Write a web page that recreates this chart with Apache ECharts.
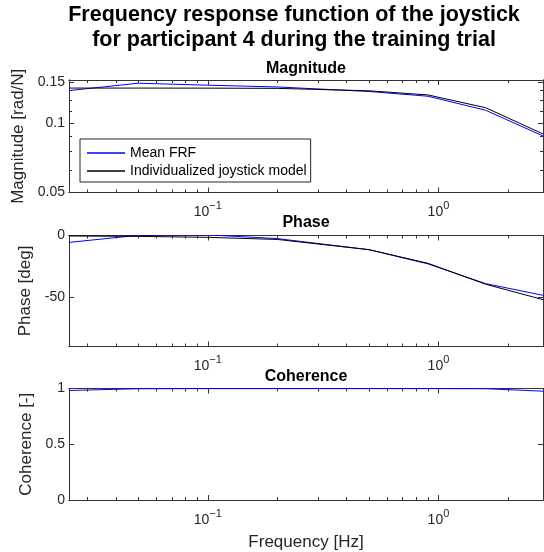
<!DOCTYPE html>
<html><head><meta charset="utf-8">
<script src="https://cdn.jsdelivr.net/npm/echarts@6/dist/echarts.min.js"></script>
<style>html,body{margin:0;padding:0;background:#fff}#c{width:544px;height:552px}</style>
</head><body><div id="c"></div>
<script>
// ---- data ----
const freq       = [0.025, 0.05, 0.1, 0.2, 0.5, 0.9, 1.6, 2.84];
const magFRF     = [0.1377, 0.1482, 0.1453, 0.1428, 0.1365, 0.1302, 0.1133, 0.0877];
const magModel   = [0.1412, 0.1412, 0.1411, 0.1408, 0.1374, 0.1319, 0.1162, 0.0895];
const phaseFRF   = [-5.6, 0.2, 0.5, -2.5, -11.5, -23.0, -39.0, -48.5];
const phaseModel = [-0.4, -0.7, -1.5, -3.2, -11.5, -22.5, -39.5, -52.0];
const coherence  = [0.982, 0.998, 0.999, 0.999, 0.999, 0.999, 0.998, 0.976];

const xMajorTicks   = [0.1, 1];
const xMinorTicks   = [0.03,0.04,0.05,0.06,0.07,0.08,0.09,0.2,0.3,0.4,0.5,0.6,0.7,0.8,0.9,2];
const magMajorTicks = [0.05, 0.1, 0.15];
const magMinorTicks = [0.0625, 0.075, 0.0875, 0.1125, 0.125, 0.1375];
const phaseTicks    = [-50, 0];
const cohTicks      = [0, 0.5, 1];
const xLimits     = [0.025, 2.84];
const magLimits   = [0.05, 0.153];
const phaseLimits = [-90, 0];
const cohLimits   = [0, 1];

const mainTitle = ['Frequency response function of the joystick', 'for participant 4 during the training trial'];
const panelTitles = ['Magnitude', 'Phase', 'Coherence'];
const yNames = ['Magnitude [rad/N]', 'Phase [deg]', 'Coherence [-]'];
const xName = 'Frequency [Hz]';
const seriesNames = ['Mean FRF', 'Individualized joystick model'];

// ---- chart ----
const lg = Math.log10;
const FONT = '"Liberation Sans", Arial, Helvetica, sans-serif';
const AX = '#262626';
const LINE = {color: '#333', width: 1};
const grids = [
  {left: 69, top: 80,    width: 474, height: 112.5},
  {left: 69, top: 235.5, width: 474, height: 111},
  {left: 69, top: 388.5, width: 474, height: 112}
];
const cx = 69 + 474 / 2;

const xAxis = [], yAxis = [];
function xFmt(v) {
  const e = Math.round(v);
  return '{b|10}{s|' + (e < 0 ? '\u2212' + (-e) : e) + '}';
}
function addX(g, showName) {
  const base = {type: 'value', gridIndex: g, min: lg(xLimits[0]), max: lg(xLimits[1]),
    splitLine: {show: false}, axisLine: {show: true, onZero: false, lineStyle: LINE}};
  const idx = xAxis.length;
  xAxis.push(Object.assign({}, base, {position: 'bottom',
    axisTick: {show: true, inside: true, length: 5, lineStyle: LINE, customValues: xMajorTicks.map(lg)},
    axisLabel: {show: true, customValues: xMajorTicks.map(lg), margin: 8, formatter: xFmt,
      rich: {b: {fontSize: 14, fontFamily: FONT, color: AX},
             s: {fontSize: 11, fontFamily: FONT, color: AX, padding: [0, 0, 13, 0]}}},
    name: showName ? xName : '', nameLocation: 'middle', nameGap: 34,
    nameTextStyle: {fontSize: 17, fontFamily: FONT, color: AX}}));
  xAxis.push(Object.assign({}, base, {position: 'bottom',
    axisTick: {show: true, inside: true, length: 3, lineStyle: LINE, customValues: xMinorTicks.map(lg)},
    axisLabel: {show: false}}));
  xAxis.push(Object.assign({}, base, {position: 'top',
    axisTick: {show: true, inside: true, length: 5, lineStyle: LINE, customValues: xMajorTicks.map(lg)},
    axisLabel: {show: false}}));
  xAxis.push(Object.assign({}, base, {position: 'top',
    axisTick: {show: true, inside: true, length: 3, lineStyle: LINE, customValues: xMinorTicks.map(lg)},
    axisLabel: {show: false}}));
  return idx;
}
function addY(g, lim, major, minor, tf, fmt, name) {
  const base = {type: 'value', gridIndex: g, min: tf(lim[0]), max: tf(lim[1]),
    splitLine: {show: false}, axisLine: {show: true, onZero: false, lineStyle: LINE}};
  const idx = yAxis.length;
  yAxis.push(Object.assign({}, base, {position: 'left',
    axisTick: {show: true, inside: true, length: 5, lineStyle: LINE, customValues: major.map(tf)},
    axisLabel: {show: true, customValues: major.map(tf), margin: 4, formatter: fmt,
      fontSize: 14, fontFamily: FONT, color: AX},
    name: name, nameLocation: 'middle', nameGap: 31,
    nameTextStyle: {fontSize: 17, fontFamily: FONT, color: AX}}));
  yAxis.push(Object.assign({}, base, {position: 'right',
    axisTick: {show: true, inside: true, length: 5, lineStyle: LINE, customValues: major.map(tf)},
    axisLabel: {show: false}}));
  if (minor) {
    ['left', 'right'].forEach(p => yAxis.push(Object.assign({}, base, {position: p,
      axisTick: {show: true, inside: true, length: 3, lineStyle: LINE, customValues: minor.map(tf)},
      axisLabel: {show: false}})));
  }
  return idx;
}
const id = v => v;
const gx = [addX(0, false), addX(1, false), addX(2, true)];
const gy = [
  addY(0, magLimits, magMajorTicks, magMinorTicks, lg, v => String(+Math.pow(10, v).toFixed(3)), yNames[0]),
  addY(1, phaseLimits, phaseTicks, null, id, v => String(Math.round(v)), yNames[1]),
  addY(2, cohLimits, cohTicks, null, id, v => String(+v.toFixed(2)), yNames[2])
];

function mk(name, xs, ys, tf, g, color) {
  return {type: 'line', name: name, xAxisIndex: gx[g], yAxisIndex: gy[g],
    data: xs.map((f, i) => [lg(f), tf(ys[i])]), symbol: 'none', showSymbol: false,
    lineStyle: {color: color, width: 1}, itemStyle: {color: color}, silent: true, z: 3};
}
const series = [
  mk(seriesNames[0], freq, magFRF, lg, 0, '#0000ff'),
  mk(seriesNames[1], freq, magModel, lg, 0, '#000000'),
  mk(seriesNames[0], freq, phaseFRF, id, 1, '#0000ff'),
  mk(seriesNames[1], freq, phaseModel, id, 1, '#000000'),
  mk(seriesNames[0], freq, coherence, id, 2, '#0000ff')
];

const titleY = [15.3, 40.3];
const panelY = [69, 223, 377];
const graphic = [];
mainTitle.forEach((t, i) => graphic.push({type: 'text', x: 294, y: titleY[i],
  style: {text: t, fontSize: 21.5, fontWeight: 'bold', fontFamily: FONT, fill: '#000',
    textAlign: 'center', textVerticalAlign: 'middle'}}));
panelTitles.forEach((t, i) => graphic.push({type: 'text', x: cx, y: panelY[i],
  style: {text: t, fontSize: 16, fontWeight: 'bold', fontFamily: FONT, fill: '#000',
    textAlign: 'center', textVerticalAlign: 'middle'}}));

const chart = echarts.init(document.getElementById('c'), null, {renderer: 'canvas'});
chart.setOption({
  animation: false,
  backgroundColor: '#fff',
  grid: grids,
  xAxis: xAxis,
  yAxis: yAxis,
  legend: {data: seriesNames, orient: 'vertical', left: 80, top: 139, icon: 'rect',
    padding: [7, 4, 4, 7], itemWidth: 38, itemHeight: 1.3, itemGap: 4,
    backgroundColor: '#fff', borderColor: AX, borderWidth: 1, selectedMode: false,
    textStyle: {fontSize: 14, fontFamily: FONT, color: '#000'}},
  graphic: graphic,
  series: series
});
</script></body></html>
